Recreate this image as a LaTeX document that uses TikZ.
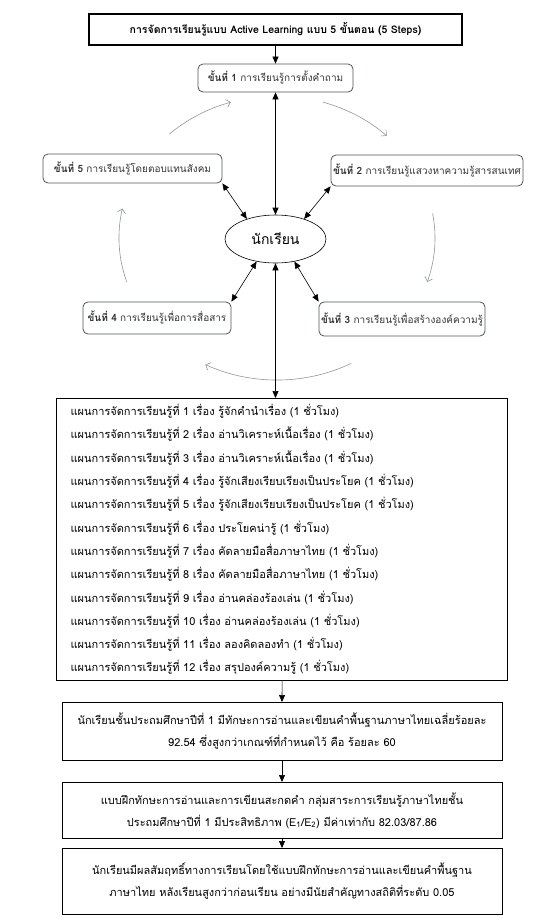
\documentclass[tikz,border=0pt]{standalone}
\usepackage{fontspec}
\setmainfont[Script=Thai]{Loma}
\usetikzlibrary{arrows.meta, positioning, shapes.geometric}

\definecolor{stepgray}{HTML}{4A5560}
\definecolor{arcgray}{HTML}{8C96A0}
\definecolor{darktext}{HTML}{333333}

\begin{document}
\begin{tikzpicture}[x=1pt, y=-1pt,
    stepbox/.style={draw=stepgray, rounded corners=5pt, line width=0.8pt, inner sep=0pt,
        font=\fontsize{10}{12}\selectfont, text=darktext},
    resbox/.style={draw, line width=1pt, inner sep=0pt, minimum width=440pt, align=center,
        font=\fontsize{11}{22}\selectfont},
    arr/.style={-{Triangle[length=7pt,width=6pt]}, line width=0.6pt},
    biarr/.style={{Triangle[length=7pt,width=6pt]}-{Triangle[length=7pt,width=6pt]}, line width=0.6pt},
    cyc/.style={-{Straight Barb[length=4pt,width=8pt]}, draw=arcgray, line width=0.6pt}]
    \useasboundingbox (0,0) rectangle (553,924);

    % Title
    \node[draw, line width=1.2pt, minimum width=373pt, minimum height=31pt, inner sep=0pt,
        font=\bfseries\fontsize{10.5}{13}\selectfont] (title) at (275.5,29.5)
        {การจัดการเรียนรู้แบบ Active Learning แบบ 5 ขั้นตอน (5 Steps)};

    % Five steps around the learner
    \node[stepbox, minimum width=155pt, minimum height=28pt] (s1) at (275.5,78)
        {\textbf{ขั้นที่ 1} การเรียนรู้การตั้งคำถาม};
    \node[stepbox, minimum width=192pt, minimum height=31pt] (s2) at (427,170.5)
        {\textbf{ขั้นที่ 2} การเรียนรู้แสวงหาความรู้สารสนเทศ};
    \node[stepbox, minimum width=166pt, minimum height=34pt] (s3) at (402,319)
        {\textbf{ขั้นที่ 3} การเรียนรู้เพื่อสร้างองค์ความรู้};
    \node[stepbox, minimum width=148pt, minimum height=32pt] (s4) at (157,318)
        {\textbf{ขั้นที่ 4} การเรียนรู้เพื่อการสื่อสาร};
    \node[stepbox, minimum width=179pt, minimum height=29pt] (s5) at (132.5,168.5)
        {\textbf{ขั้นที่ 5} การเรียนรู้โดยตอบแทนสังคม};

    % Learner
    \node[ellipse, draw, line width=0.6pt, minimum width=101pt, minimum height=48pt, inner sep=0pt,
        font=\fontsize{14}{16}\selectfont] (ell) at (275.5,239) {นักเรียน};

    % Cycle arrows
    \coordinate (ctr) at (277,238);
    \draw[cyc] ([shift={(133:158pt and 142pt)}]ctr) arc[start angle=133, end angle=107, x radius=158pt, y radius=142pt];
    \draw[cyc] ([shift={(73:158pt and 142pt)}]ctr) arc[start angle=73, end angle=46, x radius=158pt, y radius=142pt];
    \draw[cyc] ([shift={(10:158pt and 142pt)}]ctr) arc[start angle=10, end angle=-18, x radius=158pt, y radius=142pt];
    \draw[cyc] ([shift={(-62:158pt and 142pt)}]ctr) arc[start angle=-62, end angle=-117, x radius=158pt, y radius=142pt];
    \draw[cyc] ([shift={(198:158pt and 142pt)}]ctr) arc[start angle=198, end angle=168, x radius=158pt, y radius=142pt];

    % Lesson plans
    \node[draw, line width=1.2pt, inner xsep=14pt, inner ysep=0pt, text width=423pt, minimum height=282pt,
        align=left, anchor=north west, font=\fontsize{11}{23.3}\selectfont] (plans) at (56,398)
        {แผนการจัดการเรียนรู้ที่ 1 เรื่อง รู้จักคำนำเรื่อง (1 ชั่วโมง)\\
         แผนการจัดการเรียนรู้ที่ 2 เรื่อง อ่านวิเคราะห์เนื้อเรื่อง (1 ชั่วโมง)\\
         แผนการจัดการเรียนรู้ที่ 3 เรื่อง อ่านวิเคราะห์เนื้อเรื่อง (1 ชั่วโมง)\\
         แผนการจัดการเรียนรู้ที่ 4 เรื่อง รู้จักเสียงเรียบเรียงเป็นประโยค (1 ชั่วโมง)\\
         แผนการจัดการเรียนรู้ที่ 5 เรื่อง รู้จักเสียงเรียบเรียงเป็นประโยค (1 ชั่วโมง)\\
         แผนการจัดการเรียนรู้ที่ 6 เรื่อง ประโยคน่ารู้ (1 ชั่วโมง)\\
         แผนการจัดการเรียนรู้ที่ 7 เรื่อง คัดลายมือสื่อภาษาไทย (1 ชั่วโมง)\\
         แผนการจัดการเรียนรู้ที่ 8 เรื่อง คัดลายมือสื่อภาษาไทย (1 ชั่วโมง)\\
         แผนการจัดการเรียนรู้ที่ 9 เรื่อง อ่านคล่องร้องเล่น (1 ชั่วโมง)\\
         แผนการจัดการเรียนรู้ที่ 10 เรื่อง อ่านคล่องร้องเล่น (1 ชั่วโมง)\\
         แผนการจัดการเรียนรู้ที่ 11 เรื่อง ลองคิดลองทำ (1 ชั่วโมง)\\
         แผนการจัดการเรียนรู้ที่ 12 เรื่อง สรุปองค์ความรู้ (1 ชั่วโมง)};

    % Results
    \node[resbox, minimum height=58pt, anchor=north] (resA) at (282,702)
        {นักเรียนชั้นประถมศึกษาปีที่ 1 มีทักษะการอ่านและเขียนคำพื้นฐานภาษาไทยเฉลี่ยร้อยละ\\
         92.54 ซึ่งสูงกว่าเกณฑ์ที่กำหนดไว้ คือ ร้อยละ 60};
    \node[resbox, minimum height=56pt, anchor=north] (resB) at (282,782)
        {แบบฝึกทักษะการอ่านและการเขียนสะกดคำ กลุ่มสาระการเรียนรู้ภาษาไทยชั้น\\
         ประถมศึกษาปีที่ 1 มีประสิทธิภาพ (E\textsubscript{1}/E\textsubscript{2}) มีค่าเท่ากับ 82.03/87.86};
    \node[resbox, minimum height=66pt, anchor=north] (resC) at (282,848)
        {นักเรียนมีผลสัมฤทธิ์ทางการเรียนโดยใช้แบบฝึกทักษะการอ่านและเขียนคำพื้นฐาน\\
         ภาษาไทย หลังเรียนสูงกว่าก่อนเรียน อย่างมีนัยสำคัญทางสถิติที่ระดับ 0.05};

    % Connectors
    \draw[arr] (title) -- (s1);
    \draw[biarr] (s1) -- (ell);
    \draw[biarr] (ell) -- (ell |- plans.north);
    \draw[biarr] (ell.145) -- (s5.south east);
    \draw[biarr] (ell.35) -- (s2.south west);
    \draw[biarr] (ell.230) -- (s4.north east);
    \draw[biarr] (ell.310) -- (s3.north west);
    \draw[arr] (plans.south) -- (resA.north);
    \draw[arr] (resA) -- (resB);
    \draw[arr] (resB) -- (resC);
\end{tikzpicture}
\end{document}
